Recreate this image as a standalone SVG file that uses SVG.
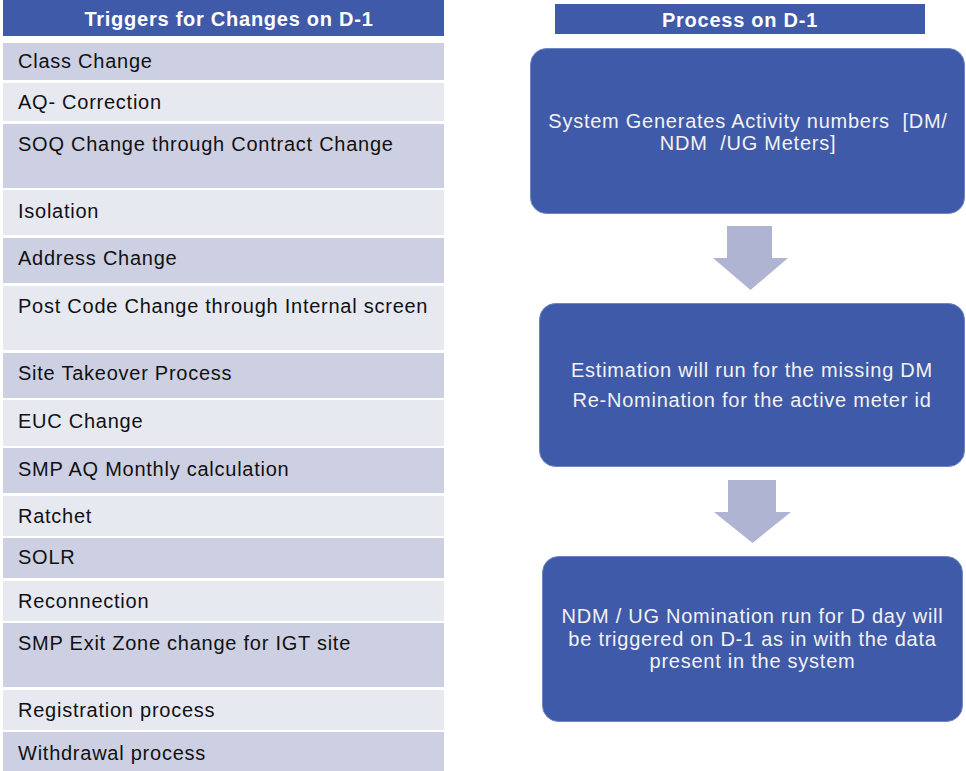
<svg xmlns="http://www.w3.org/2000/svg" width="966" height="771" viewBox="0 0 966 771">
<style>
.hdr{fill:#3F5AA8}
.dark{fill:#CDD0E2}
.light{fill:#E7E9F1}
.box{fill:#3F5AA8;stroke:#6F84C2;stroke-width:1}
.arrow{fill:#AEB4D2}
.t{font-family:"Liberation Sans",Arial,sans-serif;font-size:20px;letter-spacing:0.75px}
.lt{fill:#111}
.ht{fill:#fff;font-weight:bold}
.bt{fill:#F2F2F2;text-anchor:middle;white-space:pre}
</style>
<rect width="966" height="771" fill="#fff"/>
<g id="triggers-header">
<rect class="hdr" x="3" y="0" width="441" height="36"/>
<text class="t ht" x="229" y="26" text-anchor="middle">Triggers for Changes on D-1</text>
</g>
<g id="row-class-change"><rect class="dark" x="3" y="43" width="441" height="37"/><text class="t lt" x="18" y="67.5">Class Change</text></g>
<g id="row-aq-correction"><rect class="light" x="3" y="83" width="441" height="38"/><text class="t lt" x="18" y="109">AQ- Correction</text></g>
<g id="row-soq"><rect class="dark" x="3" y="124" width="441" height="64"/><text class="t lt" x="18" y="151">SOQ Change through Contract Change</text></g>
<g id="row-isolation"><rect class="light" x="3" y="190" width="441" height="45"/><text class="t lt" x="18" y="218">Isolation</text></g>
<g id="row-address"><rect class="dark" x="3" y="238" width="441" height="45"/><text class="t lt" x="18" y="265">Address Change</text></g>
<g id="row-postcode"><rect class="light" x="3" y="286" width="441" height="64"/><text class="t lt" x="18" y="313">Post Code Change through Internal screen</text></g>
<g id="row-site-takeover"><rect class="dark" x="3" y="353" width="441" height="45"/><text class="t lt" x="18" y="380">Site Takeover Process</text></g>
<g id="row-euc"><rect class="light" x="3" y="400" width="441" height="46"/><text class="t lt" x="18" y="428">EUC Change</text></g>
<g id="row-smp-aq"><rect class="dark" x="3" y="448" width="441" height="45"/><text class="t lt" x="18" y="476">SMP AQ Monthly calculation</text></g>
<g id="row-ratchet"><rect class="light" x="3" y="496" width="441" height="40"/><text class="t lt" x="18" y="523">Ratchet</text></g>
<g id="row-solr"><rect class="dark" x="3" y="538" width="441" height="40"/><text class="t lt" x="18" y="564">SOLR</text></g>
<g id="row-reconnection"><rect class="light" x="3" y="581" width="441" height="40"/><text class="t lt" x="18" y="608">Reconnection</text></g>
<g id="row-smp-exit"><rect class="dark" x="3" y="623" width="441" height="64"/><text class="t lt" x="18" y="650">SMP Exit Zone change for IGT site</text></g>
<g id="row-registration"><rect class="light" x="3" y="690" width="441" height="40"/><text class="t lt" x="18" y="717">Registration process</text></g>
<g id="row-withdrawal"><rect class="dark" x="3" y="732" width="441" height="39"/><text class="t lt" x="18" y="760">Withdrawal process</text></g>

<g id="process-header">
<rect class="hdr" x="555" y="4" width="370" height="30"/>
<text class="t ht" x="740" y="26.5" text-anchor="middle">Process on D-1</text>
</g>
<g id="box-system-generates">
<rect class="box" x="530.5" y="48.5" width="434" height="165" rx="16"/>
<text class="t bt" x="748" y="127.5">System Generates Activity numbers  [DM/</text>
<text class="t bt" x="748" y="150">NDM  /UG Meters]</text>
</g>
<g id="box-estimation">
<rect class="box" x="539.5" y="303.5" width="425" height="163" rx="16"/>
<text class="t bt" x="752" y="377">Estimation will run for the missing DM</text>
<text class="t bt" x="752" y="407">Re-Nomination for the active meter id</text>
</g>
<g id="box-ndm-nomination">
<rect class="box" x="542.5" y="556.5" width="420" height="165" rx="16"/>
<text class="t bt" x="752.5" y="623">NDM / UG Nomination run for D day will</text>
<text class="t bt" x="752.5" y="645.5">be triggered on D-1 as in with the data</text>
<text class="t bt" x="752.5" y="668">present in the system</text>
</g>
<g id="connectors">
<polygon class="arrow" points="727,226 772,226 772,258 788,258 750.5,290 713,258 727,258"/>
<polygon class="arrow" points="728,480 776,480 776,512 791,512 752.5,543 714,512 728,512"/>
</g>
</svg>
